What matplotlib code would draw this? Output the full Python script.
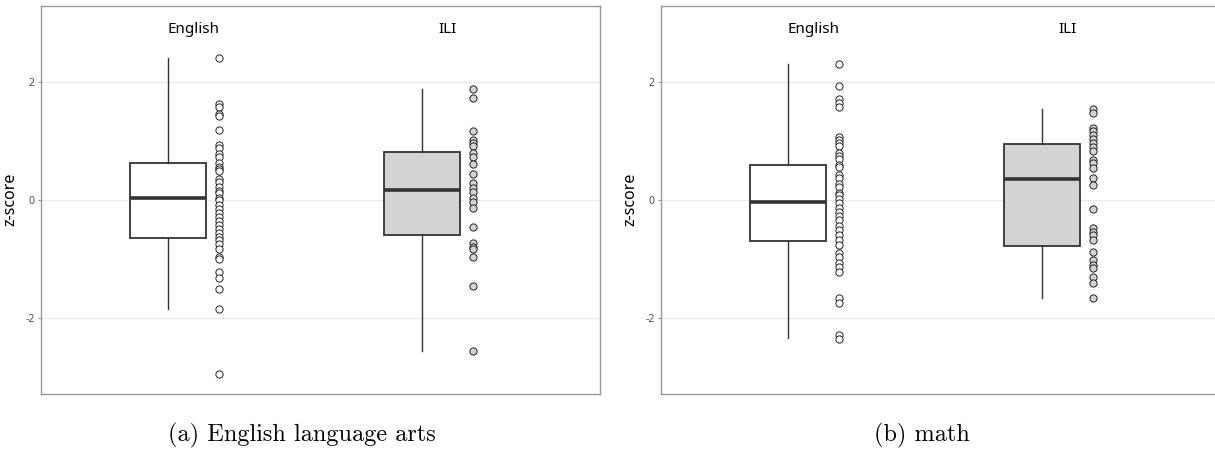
import matplotlib
matplotlib.use("Agg")
import matplotlib.pyplot as plt

plt.rcParams["font.family"] = ["Noto Sans", "DejaVu Sans"]

# 组别
groups = ["English", "ILI"]
fills = ["white", "#d3d3d3"]

# 各面板的散点（z 分数，从图上读取）
ela_english = [2.405, 1.619, 1.568, 1.460, 1.426, 1.188, 0.922, 0.872, 0.775, 0.719,
               0.617, 0.560, 0.521, 0.492, 0.351, 0.306, 0.221, 0.153, 0.108, 0.034,
               -0.006, -0.085, -0.164, -0.232, -0.300, -0.368, -0.436, -0.504, -0.572,
               -0.639, -0.685, -0.753, -0.843, -0.968, -1.013, -1.222, -1.324, -1.522,
               -1.862, -2.949]
ela_ili = [1.885, 1.720, 1.166, 1.013, 0.956, 0.911, 0.798, 0.730, 0.606, 0.436,
           0.277, 0.192, 0.136, 0.034, -0.034, -0.147, -0.458, -0.730, -0.809,
           -0.843, -0.968, -1.460, -2.564]
math_english = [2.298, 1.935, 1.709, 1.636, 1.568, 1.070, 1.013, 0.956, 0.911, 0.798,
                0.741, 0.685, 0.589, 0.549, 0.419, 0.362, 0.266, 0.221, 0.119, 0.079,
                0.006, -0.051, -0.147, -0.204, -0.277, -0.345, -0.441, -0.515, -0.600,
                -0.685, -0.770, -0.911, -0.968, -1.081, -1.138, -1.234, -1.664, -1.760,
                -2.298, -2.366]
math_ili = [1.539, 1.466, 1.211, 1.166, 1.098, 1.024, 0.956, 0.900, 0.826, 0.673,
            0.617, 0.543, 0.362, 0.249, -0.164, -0.475, -0.543, -0.600, -0.685,
            -0.883, -1.024, -1.109, -1.166, -1.307, -1.409, -1.664]

# 箱线图统计量：下须, Q1, 中位数, Q3, 上须
ela_english_box = [-1.862, -0.651, 0.023, 0.628, 2.405]
ela_ili_box = [-2.564, -0.594, 0.164, 0.804, 1.885]
math_english_box = [-2.343, -0.696, -0.045, 0.589, 2.298]
math_ili_box = [-1.664, -0.787, 0.351, 0.945, 1.539]

captions = ["(a) English language arts", "(b) math"]
yticks = [-2, 0, 2]

panels = [
    ([ela_english, ela_ili], [ela_english_box, ela_ili_box]),
    ([math_english, math_ili], [math_english_box, math_ili_box]),
]

W, H = 1215, 449
fig = plt.figure(figsize=(W / 100, H / 100), dpi=100)

axes_left = [41, 661]
ax_w = 558.7
ax_top, ax_bottom = 5.7, 393.7
caption_x = [302, 922]

edge = "#333333"
for i, (points, boxes) in enumerate(panels):
    ax = fig.add_axes([axes_left[i] / W, (H - ax_bottom) / H, ax_w / W, (ax_bottom - ax_top) / H])
    stats = []
    for b in boxes:
        stats.append(dict(whislo=b[0], q1=b[1], med=b[2], q3=b[3], whishi=b[4], fliers=[]))
    bp = ax.bxp(stats, positions=[0.9, 1.9], widths=0.3, showcaps=False, showfliers=False,
                patch_artist=True,
                boxprops=dict(edgecolor=edge, linewidth=1.3),
                whiskerprops=dict(color=edge, linewidth=1.0),
                medianprops=dict(color=edge, linewidth=2.6, solid_capstyle="butt"))
    for patch, fc in zip(bp["boxes"], fills):
        patch.set_facecolor(fc)
    for j, vals in enumerate(points):
        ax.scatter([j + 1.1] * len(vals), vals, s=27, facecolor=fills[j],
                   edgecolor="#222222", linewidth=0.7, zorder=3)
        ax.text(j + 1, 2.89, groups[j], ha="center", va="center", fontsize=11, color="black")

    ax.set_xlim(0.4, 2.6)
    ax.set_ylim(-3.29, 3.29)
    ax.set_xticks([])
    ax.set_yticks(yticks)
    ax.set_yticklabels([str(t) for t in yticks])
    ax.tick_params(axis="y", length=2.5, width=0.8, colors="#999999", labelcolor="#4d4d4d",
                   labelsize=7.5, pad=2)
    ax.grid(axis="y", color="#ebebeb", linewidth=1.0)
    ax.set_axisbelow(True)
    for sp in ax.spines.values():
        sp.set_color("#999999")
        sp.set_linewidth(1.0)
    ax.set_ylabel("z-score", fontsize=11.5, labelpad=5)

    fig.text(caption_x[i] / W, 1 - 435 / H, captions[i], ha="center", va="center",
             fontsize=17.5, family="cmr10")

fig.savefig("out.png", dpi=100)
